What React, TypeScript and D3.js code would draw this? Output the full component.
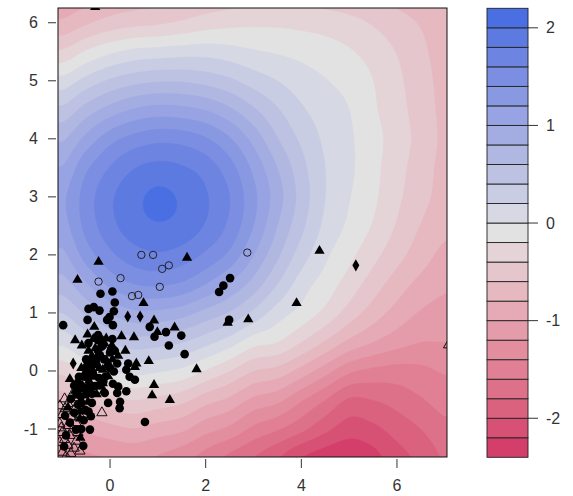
import React, { useMemo } from "react";
import * as d3 from "d3";

// ---- surface (z values, on a 0.5 x 0.5 grid) ----
const xNodes = [-1, -0.5, 0, 0.5, 1, 1.5, 2, 2.5, 3, 3.5, 4, 4.5, 5, 5.5, 6, 6.5, 7];
const yNodes = [-1.5, -1, -0.5, 0, 0.5, 1, 1.5, 2, 2.5, 3, 3.5, 4, 4.5, 5, 5.5, 6, 6.5];
// rows follow yNodes (bottom to top), columns follow xNodes
const zGrid = [
  [-1.29, -1.24, -1.19, -1.16, -1.22, -1.32, -1.48, -1.65, -1.8, -1.98, -2.2, -2.31, -2.37, -2.27, -2.08, -1.95, -1.78],
  [-1.06, -0.96, -0.87, -0.81, -0.89, -0.96, -1.13, -1.25, -1.45, -1.58, -1.75, -1.95, -2.1, -2.05, -1.92, -1.8, -1.66],
  [-0.71, -0.58, -0.47, -0.4, -0.46, -0.54, -0.72, -0.85, -1.05, -1.15, -1.38, -1.6, -1.83, -1.8, -1.72, -1.62, -1.52],
  [-0.35, -0.16, -0.01, 0.07, 0.02, -0.05, -0.22, -0.4, -0.6, -0.68, -0.88, -1.12, -1.36, -1.45, -1.48, -1.45, -1.38],
  [0.05, 0.25, 0.41, 0.51, 0.48, 0.41, 0.27, 0.1, -0.12, -0.2, -0.4, -0.62, -0.85, -1.0, -1.12, -1.2, -1.2],
  [0.4, 0.63, 0.82, 0.95, 0.95, 0.88, 0.73, 0.58, 0.35, 0.1, -0.07, -0.26, -0.49, -0.7, -0.88, -1.02, -1.08],
  [0.71, 0.98, 1.25, 1.4, 1.43, 1.37, 1.2, 0.98, 0.72, 0.4, 0.1, -0.09, -0.29, -0.5, -0.7, -0.86, -0.96],
  [0.95, 1.29, 1.55, 1.71, 1.77, 1.71, 1.56, 1.35, 1.0, 0.64, 0.3, 0.04, -0.15, -0.34, -0.53, -0.71, -0.85],
  [1.12, 1.46, 1.73, 1.91, 1.98, 1.93, 1.78, 1.55, 1.2, 0.8, 0.45, 0.15, -0.04, -0.22, -0.42, -0.61, -0.75],
  [1.16, 1.49, 1.76, 1.94, 2.04, 1.97, 1.82, 1.6, 1.25, 0.89, 0.52, 0.2, 0.01, -0.16, -0.36, -0.53, -0.68],
  [1.01, 1.36, 1.61, 1.79, 1.86, 1.82, 1.71, 1.48, 1.15, 0.8, 0.47, 0.2, 0.04, -0.14, -0.33, -0.5, -0.66],
  [0.77, 1.06, 1.32, 1.47, 1.54, 1.52, 1.42, 1.22, 0.93, 0.61, 0.36, 0.16, 0.03, -0.13, -0.3, -0.47, -0.64],
  [0.45, 0.69, 0.88, 1.02, 1.08, 1.06, 0.99, 0.84, 0.63, 0.42, 0.23, 0.1, 0.0, -0.17, -0.33, -0.49, -0.65],
  [0.07, 0.27, 0.43, 0.53, 0.58, 0.58, 0.53, 0.44, 0.31, 0.2, 0.09, 0.01, -0.07, -0.2, -0.36, -0.51, -0.67],
  [-0.37, -0.18, -0.04, 0.05, 0.08, 0.11, 0.12, 0.08, 0.02, -0.02, -0.06, -0.11, -0.18, -0.28, -0.41, -0.55, -0.7],
  [-0.76, -0.63, -0.52, -0.46, -0.43, -0.37, -0.3, -0.26, -0.24, -0.24, -0.26, -0.29, -0.34, -0.42, -0.52, -0.62, -0.74],
  [-0.98, -0.88, -0.78, -0.72, -0.68, -0.62, -0.57, -0.52, -0.49, -0.48, -0.49, -0.51, -0.55, -0.6, -0.67, -0.75, -0.84],
];

const levels = [-2.4, -2.2, -2.0, -1.8, -1.6, -1.4, -1.2, -1.0, -0.8, -0.6, -0.4, -0.2, 0, 0.2, 0.4, 0.6, 0.8, 1.0, 1.2, 1.4, 1.6, 1.8, 2.0, 2.2];
const xDomain = [-1.088, 7.046];
const yDomain = [-1.482, 6.254];
const xTicks = [0, 2, 4, 6];
const yTicks = [-1, 0, 1, 2, 3, 4, 5, 6];
const keyTicks = [-2, -1, 0, 1, 2];

// ---- points ----
const filledCircles = [
  [-0.2, 1.33], [0.05, 1.37], [0.1, 1.18], [-0.45, 1.07], [-0.34, 1.1], [-0.22, 1.04], [0.08, 1.03],
  [-0.06, 0.88], [-0.01, 0.93], [-0.47, 0.88], [0.06, 0.79], [0.83, 0.76], [-0.98, 0.79], [1.17, 0.67],
  [1.49, 0.61], [0.93, 0.59], [1.23, 0.44], [1.56, 0.29], [-0.25, 0.53], [-0.18, 0.42], [0.03, 0.39],
  [-0.25, 0.24], [-0.39, 0.16], [-0.04, 0.1], [0.15, 0.13], [0.34, 0.02], [0.08, -0.01], [0.41, -0.1],
  [0.52, -0.15], [0.34, -0.35], [0.15, -0.38], [0.2, -0.64], [-0.04, -0.55], [-0.11, -0.38], [-0.39, -0.27],
  [-0.53, -0.1], [-0.46, 0.02], [0.73, -0.88], [-0.42, -1.01], [-0.56, -1.29], [2.28, 1.36], [2.37, 1.47],
  [2.51, 1.6], [2.49, 0.88], [0.17, -0.27], [0.21, -0.53], [-0.14, -0.18], [0.38, 0.13],
  [-0.25, 0.62], [-0.15, 0.44], [0.0, 0.32], [-0.21, 0.27], [-0.29, 0.12], [-0.48, 0.09], [-0.36, -0.03],
  [-0.23, -0.12], [-0.67, -0.2], [-0.31, -0.26], [-0.38, -0.39], [-0.61, -0.44], [-0.82, -0.48],
  [-0.67, -0.58], [-0.52, -0.67], [-0.75, -0.72], [-0.94, -0.77], [-0.84, -0.89], [-0.71, -1.01],
  [-0.92, -1.11], [-0.96, -1.3], [0.06, -0.22], [-0.67, -0.33], [-0.4, -0.78],
  [-0.2, 0.55], [0.05, 0.55], [-0.45, 0.48], [-0.25, 0.35], [0.1, 0.35], [-0.5, 0.2], [-0.12, 0.2],
  [-0.4, 0.05], [0.0, 0.05], [-0.65, -0.1], [-0.45, -0.1], [-0.1, -0.1], [-0.75, -0.25], [-0.42, -0.25],
  [-0.22, -0.25], [-0.7, -0.4], [-0.5, -0.4], [-0.6, -0.55], [-0.38, -0.55], [-0.45, -0.7], [-0.55, -0.85],
  [-0.6, -1.0],
];
const filledTriangles = [
  [-0.24, 1.88], [1.61, 1.95], [-0.68, 1.57], [0.7, 1.17], [0.92, 0.87], [-0.33, 0.76], [1.35, 0.75],
  [0.99, 0.67], [0.5, 0.58], [0.24, 0.6], [-0.73, 0.53], [-0.59, 0.44], [0.32, 0.35], [-0.47, 0.63],
  [0.55, 0.13], [0.81, 0.17], [1.81, 0.03], [-0.84, -0.14], [0.92, -0.24], [0.88, -0.42], [1.25, -0.5],
  [-0.15, -0.21], [0.52, 0.07], [4.38, 2.07], [3.9, 1.17], [2.89, 0.89], [2.46, 0.83], [-0.31, 6.27],
  [-0.08, 0.56], [-0.31, 0.39], [-0.38, 0.26], [-0.08, 0.19], [-0.15, 0.02], [-0.54, -0.05], [-0.44, -0.17],
  [-0.52, -0.31], [-0.73, -0.34], [-0.46, -0.53], [-0.88, -0.63], [-0.63, -0.82], [0.04, 0.44], [0.17, 0.26],
  [-0.04, -0.09], [-0.13, -0.34],
  [-0.35, 0.55], [-0.12, 0.48], [-0.45, 0.35], [-0.3, 0.2], [0.05, 0.2], [-0.6, 0.05], [-0.22, 0.05],
  [-0.3, -0.1], [-0.58, -0.25], [-0.28, -0.4], [-0.62, -0.7], [-0.62, -1.15],
];
const filledDiamonds = [[0.37, 0.94], [0.63, 0.94], [-0.77, 0.13], [5.14, 1.82]];
const openCircles = [
  [0.655, 2.0], [0.9, 2.0], [1.09, 1.76], [1.23, 1.82], [-0.24, 1.54], [0.22, 1.6], [1.04, 1.45],
  [0.46, 1.29], [0.59, 1.31], [2.87, 2.04],
];
const openTriangles = [
  [-0.77, -0.38], [-0.65, -0.46], [-0.88, -0.56], [-0.71, -0.62], [-1.0, -0.75], [-0.82, -0.79],
  [-0.65, -0.74], [-1.05, -0.91], [-0.88, -0.94], [-0.71, -0.89], [-1.0, -1.06], [-0.84, -1.11],
  [-0.67, -1.06], [-1.05, -1.23], [-0.88, -1.28], [-0.71, -1.21], [-1.0, -1.4], [-0.82, -1.42],
  [-0.63, -1.38], [-0.94, -0.65], [-0.17, -0.72], [7.08, 0.45], [-1.05, -0.6], [-0.92, -1.47],
  [-0.95, -0.48], [-0.78, -1.0], [-0.95, -1.18], [-0.75, -1.33], [-1.02, -0.98],
];

// ---- layout ----
const W = 573, H = 496;
const plot = { left: 58, right: 447, top: 8, bottom: 457 };
const key = { left: 487, right: 528, top: 8.3, bottom: 457.3 };
const FONT = "'Liberation Sans', Arial, Helvetica, sans-serif";
const TXT = "#333";

// polar LUV -> hex (same maths as colorspace's diverging HCL palettes)
function luvHex(L: number, C: number, Hd: number) {
  const Xn = 95.047, Yn = 100, Zn = 108.883;
  const den = Xn + 15 * Yn + 3 * Zn;
  const un = (4 * Xn) / den, vn = (9 * Yn) / den;
  const h = (Hd * Math.PI) / 180;
  const U = C * Math.cos(h), V = C * Math.sin(h);
  const Y = L > 7.999592 ? Yn * Math.pow((L + 16) / 116, 3) : (Yn * L) / 903.3;
  const u = U / (13 * L) + un, v = V / (13 * L) + vn;
  const X = (9 * Y * u) / (4 * v);
  const Z = (Y * (12 - 3 * u - 20 * v)) / (4 * v);
  const x = X / 100, y = Y / 100, z = Z / 100;
  const lin = [
    3.240479 * x - 1.53715 * y - 0.498535 * z,
    -0.969256 * x + 1.875992 * y + 0.041556 * z,
    0.055648 * x - 0.204043 * y + 1.057311 * z,
  ];
  const g = lin.map((c) => {
    const s = c <= 0.0031308 ? 12.92 * c : 1.055 * Math.pow(c, 1 / 2.4) - 0.055;
    return Math.round(Math.max(0, Math.min(1, s)) * 255);
  });
  return d3.rgb(g[0], g[1], g[2]).formatHex();
}

function bandColors(n: number) {
  const mid = (n - 1) / 2;
  const out: string[] = [];
  for (let i = 0; i < n; i++) {
    const v = (i - mid) / mid;
    const a = Math.abs(v);
    out.push(luvHex(90 - 40 * a, 100 * a, v > 0 ? 260 : 0));
  }
  return out;
}

function cubic(p0: number, p1: number, p2: number, p3: number, t: number) {
  return p1 + 0.5 * t * (p2 - p0 + t * (2 * p0 - 5 * p1 + 4 * p2 - p3 + t * (3 * (p1 - p2) + p3 - p0)));
}

function field(xv: number, yv: number) {
  const nX = xNodes.length, nY = yNodes.length;
  const sx = xNodes[1] - xNodes[0], sy = yNodes[1] - yNodes[0];
  const fx = Math.max(0, Math.min(nX - 1, (xv - xNodes[0]) / sx));
  const fy = Math.max(0, Math.min(nY - 1, (yv - yNodes[0]) / sy));
  const i = Math.min(nX - 2, Math.floor(fx));
  const j = Math.min(nY - 2, Math.floor(fy));
  const tx = fx - i, ty = fy - j;
  const ci = (k: number) => Math.max(0, Math.min(nX - 1, k));
  const cj = (k: number) => Math.max(0, Math.min(nY - 1, k));
  const rows: number[] = [];
  for (let r = -1; r <= 2; r++) {
    const row = zGrid[cj(j + r)];
    rows.push(cubic(row[ci(i - 1)], row[ci(i)], row[ci(i + 1)], row[ci(i + 2)], tx));
  }
  return cubic(rows[0], rows[1], rows[2], rows[3], ty);
}

export default function App() {
  const x = d3.scaleLinear().domain(xDomain).range([plot.left, plot.right]);
  const y = d3.scaleLinear().domain(yDomain).range([plot.bottom, plot.top]);
  const ky = d3.scaleLinear().domain([levels[0], levels[levels.length - 1]]).range([key.bottom, key.top]);
  const colors = bandColors(levels.length - 1);

  const bands = useMemo(() => {
    const nx = 260, ny = 300;
    const dx = (plot.right - plot.left) / nx;
    const dy = (plot.bottom - plot.top) / ny;
    const vals = new Float64Array(nx * ny);
    for (let j = 0; j < ny; j++) {
      for (let i = 0; i < nx; i++) {
        const px = plot.left + (i + 0.5) * dx;
        const py = plot.top + (j + 0.5) * dy;
        vals[j * nx + i] = field(x.invert(px), y.invert(py));
      }
    }
    const cs = d3.contours().size([nx, ny]).thresholds(levels.slice(0, -1))(Array.from(vals));
    const proj = d3.geoTransform({
      point(px: number, py: number) {
        (this as any).stream.point(plot.left + px * dx, plot.top + py * dy);
      },
    });
    const path = d3.geoPath(proj);
    return cs.map((c, k) => ({ d: path(c as any) || "", fill: colors[k] }));
  }, []);

  const tri = d3.symbol(d3.symbolTriangle, 46)() || "";
  const dia = d3.symbol(d3.symbolDiamond, 42)() || "";

  return (
    <svg width={W} height={H} style={{ position: "absolute", left: 0, top: 0, background: "#fff" }}>
      <defs>
        <clipPath id="plotclip">
          <rect x={plot.left} y={plot.top} width={plot.right - plot.left} height={plot.bottom - plot.top} />
        </clipPath>
      </defs>
      <rect x={0} y={0} width={W} height={H} fill="#fff" />
      <g clipPath="url(#plotclip)">
        <rect x={plot.left} y={plot.top} width={plot.right - plot.left} height={plot.bottom - plot.top} fill={colors[0]} />
        {bands.map((b, k) => (
          <path key={k} d={b.d} fill={b.fill} stroke={b.fill} strokeWidth={0.4} />
        ))}
        {openTriangles.map((p, k) => (
          <path key={"ot" + k} d={tri} transform={`translate(${x(p[0])},${y(p[1])})`} fill="none" stroke="#111" strokeWidth={1} />
        ))}
        {filledCircles.map((p, k) => (
          <circle key={"fc" + k} cx={x(p[0])} cy={y(p[1])} r={4.3} fill="#000" />
        ))}
        {filledTriangles.map((p, k) => (
          <path key={"ft" + k} d={tri} transform={`translate(${x(p[0])},${y(p[1])})`} fill="#000" />
        ))}
        {filledDiamonds.map((p, k) => (
          <path key={"fd" + k} d={dia} transform={`translate(${x(p[0])},${y(p[1])})`} fill="#000" />
        ))}
        {openCircles.map((p, k) => (
          <circle key={"oc" + k} cx={x(p[0])} cy={y(p[1])} r={3.7} fill="none" stroke="#222" strokeWidth={1} />
        ))}
      </g>
      <rect x={plot.left} y={plot.top} width={plot.right - plot.left} height={plot.bottom - plot.top} fill="none" stroke="#111" strokeWidth={1} />

      {/* x axis */}
      {xTicks.map((t) => (
        <g key={"xt" + t}>
          <line x1={x(t)} x2={x(t)} y1={plot.bottom + 2} y2={plot.bottom + 11} stroke="#333" strokeWidth={1} />
          <text x={x(t)} y={491} textAnchor="middle" fontFamily={FONT} fontSize={16} fill={TXT}>{t}</text>
        </g>
      ))}
      {/* y axis */}
      {yTicks.map((t) => (
        <g key={"yt" + t}>
          <line x1={plot.left - 10} x2={plot.left - 2} y1={y(t)} y2={y(t)} stroke="#333" strokeWidth={1} />
          <text x={38} y={y(t) + 5.5} textAnchor="end" fontFamily={FONT} fontSize={16} fill={TXT}>{t}</text>
        </g>
      ))}

      {/* colour key */}
      {colors.map((c, k) => (
        <rect key={"kb" + k} x={key.left} y={ky(levels[k + 1])} width={key.right - key.left}
          height={ky(levels[k]) - ky(levels[k + 1])} fill={c} stroke="#222" strokeWidth={0.9} />
      ))}
      {keyTicks.map((t) => (
        <g key={"kt" + t}>
          <line x1={key.right} x2={key.right + 10} y1={ky(t)} y2={ky(t)} stroke="#333" strokeWidth={1} />
          <text x={546} y={ky(t) + 5.5} textAnchor="start" fontFamily={FONT} fontSize={16} fill={TXT}>{t}</text>
        </g>
      ))}
    </svg>
  );
}
